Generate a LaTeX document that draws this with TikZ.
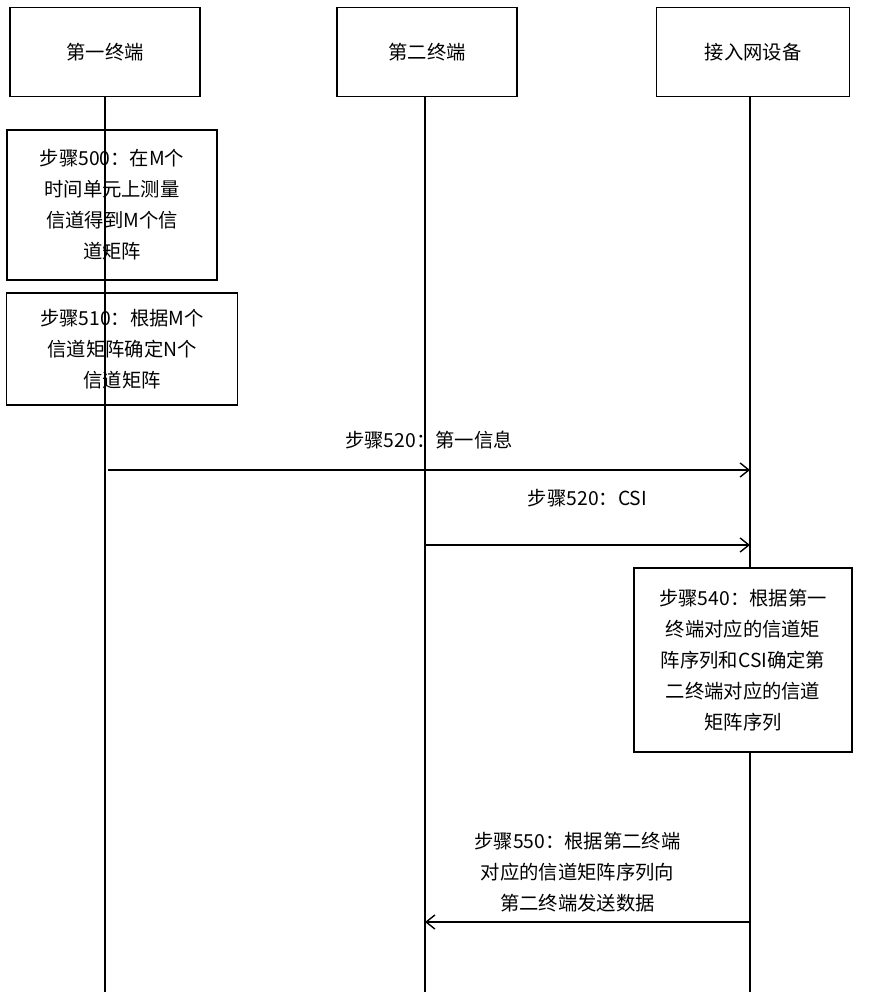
\documentclass[tikz,border=0pt]{standalone}
\usepackage{fontspec}
\setmainfont{Liberation Serif}
\newfontfamily\cjk{Noto Sans CJK SC}
\usetikzlibrary{arrows.meta,positioning}
\tikzset{
	head/.style={draw,thick,minimum width=3.8cm,minimum height=1.78cm,font=\cjk\fontsize{11}{17.6}\selectfont},
	stepbox/.style={draw,thick,align=center,inner sep=0pt,font=\cjk\fontsize{11}{17.6}\selectfont},
	msg/.style={->,>={Straight Barb[width=8pt,length=5pt]},thick},
	msglabel/.style={align=center,font=\cjk\fontsize{11}{17.6}\selectfont},
	life/.style={thick}
}
\begin{document}
\begin{tikzpicture}[x=0.02cm,y=-0.02cm]
	\useasboundingbox (0,0) rectangle (874,1000);
	%%%heads
	\node[head] (t1) at (105,52) {第一终端};
	\node[head,minimum width=3.6cm] (t2) at (427,52) {第二终端};
	\node[head,minimum width=3.86cm] (ap) at (753,52) {接入网设备};
	\coordinate (e1) at (105,992);
	\coordinate (e2) at (425,992);
	\coordinate (e3) at (750,992);
	\draw[life] (t1) -- (e1);
	\draw[life] (t2.south -| e2) -- (e2);
	\draw[life] (ap.south -| e3) -- (e3);
	
	%%%steps
	\node[stepbox,minimum width=4.2cm,minimum height=3cm] (s500) at (112,205) {步骤500：在M个\\时间单元上测量\\信道得到M个信\\道矩阵};
	\node[stepbox,minimum width=4.62cm,minimum height=2.24cm] (s510) at (122,349) {步骤510：根据M个\\信道矩阵确定N个\\信道矩阵};
	\node[stepbox,fill=white,minimum width=4.36cm,minimum height=3.68cm] (s540) at (743,660) {步骤540：根据第一\\终端对应的信道矩\\阵序列和CSI确定第\\二终端对应的信道\\矩阵序列};
	
	%%%messages
	\coordinate (a1) at (108,470);
	\coordinate (b1) at (750,470);
	\coordinate (a2) at (425,545);
	\coordinate (b2) at (750,545);
	\coordinate (a3) at (750,922);
	\coordinate (b3) at (425,922);
	\draw[msg] (a1) -- node[msglabel,above=8pt] {步骤520：第一信息} (b1);
	\draw[msg] (a2) -- node[msglabel,above=18pt] {步骤520：CSI} (b2);
	\draw[msg] (a3) -- node[msglabel,above=2pt,xshift=-0.2cm] {步骤550：根据第二终端\\对应的信道矩阵序列向\\第二终端发送数据} (b3);
\end{tikzpicture}
\end{document}
